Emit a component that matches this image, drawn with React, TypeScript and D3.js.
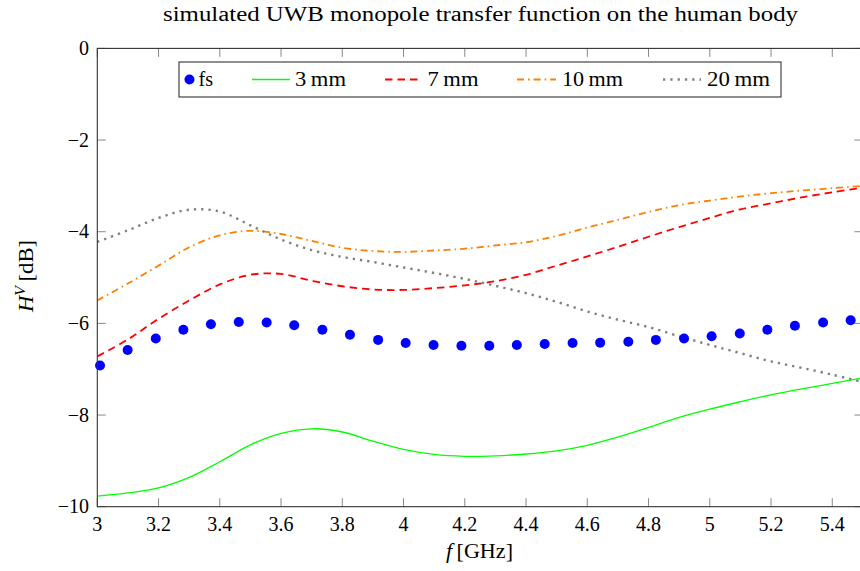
import React from "react";
import * as d3 from "d3";

const W = 860;
const H = 571;

// measured (fs) points
const fsFreq = [3.009, 3.099, 3.191, 3.281, 3.371, 3.462, 3.553, 3.643, 3.735, 3.825, 3.917, 4.007, 4.098, 4.189, 4.28, 4.37, 4.461, 4.552, 4.642, 4.734, 4.824, 4.916, 5.006, 5.098, 5.188, 5.278, 5.37, 5.46];
const fsValues = [-6.92, -6.58, -6.33, -6.14, -6.02, -5.97, -5.98, -6.04, -6.14, -6.25, -6.36, -6.43, -6.47, -6.49, -6.49, -6.47, -6.45, -6.43, -6.42, -6.4, -6.36, -6.33, -6.28, -6.22, -6.14, -6.05, -5.98, -5.93];

// simulated curves sampled on a common frequency grid (GHz)
const lineFreq = [3.0, 3.1, 3.2, 3.3, 3.4, 3.5, 3.6, 3.7, 3.8, 3.9, 4.0, 4.1, 4.2, 4.3, 4.4, 4.5, 4.6, 4.7, 4.8, 4.9, 5.0, 5.1, 5.2, 5.3, 5.4, 5.5];
const mm3 = [-9.77, -9.7, -9.59, -9.36, -9.02, -8.65, -8.4, -8.3, -8.37, -8.57, -8.75, -8.86, -8.9, -8.89, -8.85, -8.78, -8.66, -8.48, -8.27, -8.05, -7.87, -7.71, -7.56, -7.43, -7.31, -7.19];
const mm7 = [-6.72, -6.35, -5.9, -5.5, -5.15, -4.94, -4.92, -5.07, -5.19, -5.26, -5.27, -5.23, -5.17, -5.08, -4.94, -4.74, -4.54, -4.33, -4.11, -3.9, -3.7, -3.51, -3.38, -3.25, -3.14, -3.04];
const mm10 = [-5.5, -5.13, -4.74, -4.34, -4.08, -3.98, -4.05, -4.2, -4.35, -4.42, -4.44, -4.41, -4.37, -4.3, -4.23, -4.09, -3.91, -3.74, -3.57, -3.42, -3.32, -3.23, -3.16, -3.1, -3.05, -3.0];
const mm20 = [-4.22, -3.97, -3.7, -3.52, -3.56, -3.86, -4.17, -4.4, -4.55, -4.66, -4.78, -4.9, -5.03, -5.18, -5.34, -5.53, -5.74, -5.92, -6.08, -6.28, -6.47, -6.65, -6.83, -6.97, -7.12, -7.28];

const xTicks = [3, 3.2, 3.4, 3.6, 3.8, 4, 4.2, 4.4, 4.6, 4.8, 5, 5.2, 5.4];
const yTicks = [0, -2, -4, -6, -8, -10];

const seriesNames = ["fs", "3\u2009mm", "7\u2009mm", "10\u2009mm", "20\u2009mm"];
const titleText = "simulated UWB monopole transfer function on the human body";

const FONT = "'Liberation Serif', serif";

export default function App() {
  const x = d3.scaleLinear().domain([3, 5.5]).range([97.3, 862.9]);
  const y = d3.scaleLinear().domain([-10, 0]).range([506.7, 48.4]);
  const x0 = x.range()[0];
  const x1 = x.range()[1];
  const yTop = y.range()[1];
  const yBot = y.range()[0];

  const line = d3
    .line<[number, number]>()
    .x((d) => x(d[0]))
    .y((d) => y(d[1]))
    .curve(d3.curveCatmullRom.alpha(0.5));

  const mk = (vals: number[]) => line(lineFreq.map((f, i) => [f, vals[i]] as [number, number])) || "";

  const DOT = "2.3,5";
  const curves = [
    { vals: mm3, color: "#00ff00", dash: undefined as string | undefined, width: 1.3 },
    { vals: mm7, color: "#ff0000", dash: "7.5,5", width: 1.8 },
    { vals: mm10, color: "#ff8000", dash: "7,4,1.6,4", width: 1.8 },
    { vals: mm20, color: "#808080", dash: DOT, width: 2.4 },
  ];

  const tickLen = 8.5;
  const legY = 79.5;
  const legendItems = [
    { color: "#0000ff", dash: undefined as string | undefined, width: 0, sx: 183, ex: 195, tx: 198.5, tw: 14.5 },
    { color: "#00ff00", dash: undefined as string | undefined, width: 1.3, sx: 252, ex: 290, tx: 295, tw: 51 },
    { color: "#ff0000", dash: "7.5,5", width: 1.8, sx: 385, ex: 420, tx: 427.5, tw: 51 },
    { color: "#ff8000", dash: "7,4,1.6,4", width: 1.8, sx: 517, ex: 556, tx: 562, tw: 61 },
    { color: "#808080", dash: DOT, width: 2.4, sx: 663, ex: 701, tx: 707, tw: 63 },
  ];

  return (
    <svg
      width={W}
      height={H}
      style={{ position: "absolute", left: 0, top: 0, background: "#fff" }}
    >
      <defs>
        <clipPath id="plotclip">
          <rect x={x0} y={yTop} width={x1 - x0} height={yBot - yTop} />
        </clipPath>
      </defs>

      {/* title */}
      <text
        x={163}
        y={21}
        fontFamily={FONT}
        fontSize={20}
        fill="#000"
        textLength={635}
        lengthAdjust="spacingAndGlyphs"
      >
        {titleText}
      </text>

      {/* ticks */}
      {xTicks.map((t) => (
        <g key={"xt" + t}>
          <line x1={x(t)} x2={x(t)} y1={yBot} y2={yBot - tickLen} stroke="#888" strokeWidth={1} />
          <line x1={x(t)} x2={x(t)} y1={yTop} y2={yTop + tickLen} stroke="#888" strokeWidth={1} />
          <text x={x(t)} y={yBot + 24} textAnchor="middle" fontFamily={FONT} fontSize={20} fill="#000">
            {d3.format("")(t)}
          </text>
        </g>
      ))}
      {yTicks.map((t) => (
        <g key={"yt" + t}>
          <line x1={x0} x2={x0 + tickLen} y1={y(t)} y2={y(t)} stroke="#888" strokeWidth={1} />
          <line x1={x1} x2={x1 - tickLen} y1={y(t)} y2={y(t)} stroke="#888" strokeWidth={1} />
          <text x={89} y={y(t) + 6.5} textAnchor="end" fontFamily={FONT} fontSize={20} fill="#000">
            {t < 0 ? "\u2212" + Math.abs(t) : String(t)}
          </text>
        </g>
      ))}

      {/* curves */}
      <g clipPath="url(#plotclip)">
        {curves.map((c, i) => (
          <path
            key={"c" + i}
            d={mk(c.vals)}
            fill="none"
            stroke={c.color}
            strokeWidth={c.width}
            strokeDasharray={c.dash}
          />
        ))}
      </g>
      {fsFreq.map((f, i) => (
        <circle key={"p" + i} cx={x(f)} cy={y(fsValues[i])} r={5} fill="#0000ff" />
      ))}

      {/* axis frame */}
      <rect x={x0} y={yTop} width={x1 - x0} height={yBot - yTop} fill="none" stroke="#333" strokeWidth={1.1} />

      {/* legend */}
      <rect x={179} y={62} width={602} height={35} fill="#fff" stroke="#333" strokeWidth={1.1} />
      {legendItems.map((it, i) => (
        <g key={"l" + i}>
          {i === 0 ? (
            <circle cx={189.5} cy={legY} r={5} fill={it.color} />
          ) : (
            <path
              d={`M${it.sx},${legY}L${it.ex},${legY}`}
              stroke={it.color}
              strokeWidth={it.width}
              strokeDasharray={it.dash}
              fill="none"
            />
          )}
          <text
            x={it.tx}
            y={legY + 6.5}
            fontFamily={FONT}
            fontSize={20}
            fill="#000"
            textLength={it.tw}
            lengthAdjust="spacingAndGlyphs"
          >
            {seriesNames[i]}
          </text>
        </g>
      ))}

      {/* axis labels */}
      <text x={446} y={558} fontFamily={FONT} fontSize={20} fill="#000" textLength={67} lengthAdjust="spacingAndGlyphs">
        <tspan fontStyle="italic">f</tspan>
        <tspan>{"\u2009[GHz]"}</tspan>
      </text>
      <text
        transform="translate(33,312) rotate(-90)"
        fontFamily={FONT}
        fontSize={20}
        fill="#000"
        textLength={72}
        lengthAdjust="spacingAndGlyphs"
      >
        <tspan fontStyle="italic">H</tspan>
        <tspan fontStyle="italic" fontSize={14} dy={-8}>V</tspan>
        <tspan dy={8}>{"\u2009[dB]"}</tspan>
      </text>
    </svg>
  );
}
